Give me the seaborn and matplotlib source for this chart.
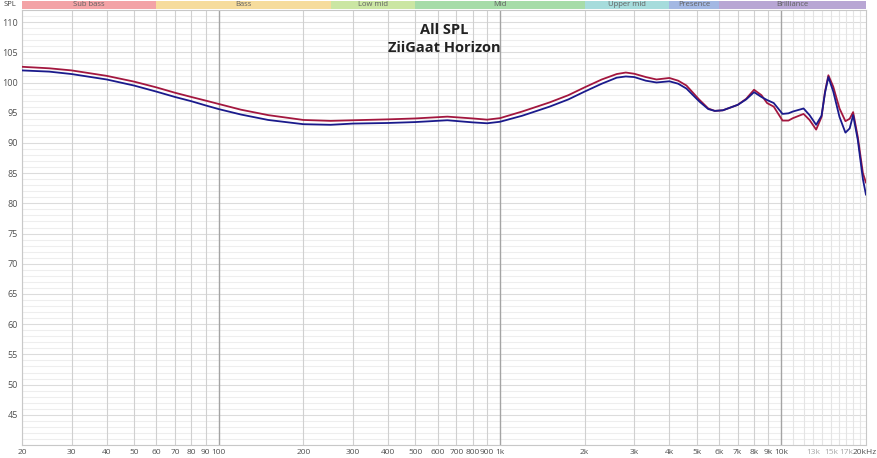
import numpy as np
import pandas as pd
import seaborn as sns
import matplotlib

matplotlib.use('Agg')
import matplotlib.pyplot as plt
import matplotlib.transforms as mtransforms
from matplotlib.ticker import FixedLocator, NullFormatter

# frequency response readings (Hz, dB SPL)
freq = [20, 25, 30, 40, 50, 60, 70, 80, 90, 100, 120, 150, 200, 250, 300, 400, 500, 650,
        800, 900, 1000, 1200, 1500, 1750, 2000, 2300, 2600, 2800, 3000, 3300, 3600, 4000,
        4300, 4600, 5100, 5500, 5800, 6200, 7000, 7500, 8000, 8500, 8900, 9400, 10100,
        10600, 11000, 12000, 12600, 13300, 13900, 14300, 14700, 15300, 16100, 16900,
        17500, 18000, 18700, 19500, 20000]
left_spl = [102.6, 102.35, 102.0, 101.1, 100.15, 99.2, 98.3, 97.6, 97.0, 96.45, 95.5, 94.6,
            93.8, 93.65, 93.75, 93.9, 94.05, 94.35, 94.05, 93.85, 94.1, 95.2, 96.7, 97.9,
            99.2, 100.5, 101.4, 101.65, 101.45, 100.9, 100.5, 100.75, 100.3, 99.5, 97.2,
            95.7, 95.3, 95.4, 96.3, 97.3, 98.8, 97.9, 96.6, 96.0, 93.7, 93.7, 94.1, 94.8,
            93.8, 92.2, 94.3, 98.5, 101.2, 99.3, 95.7, 93.6, 94.0, 95.1, 91.0, 85.0, 83.4]
right_spl = [102.0, 101.8, 101.4, 100.5, 99.5, 98.5, 97.6, 96.9, 96.2, 95.6, 94.7, 93.8,
             93.1, 93.0, 93.2, 93.3, 93.45, 93.75, 93.4, 93.25, 93.5, 94.5, 96.0, 97.2,
             98.5, 99.8, 100.8, 101.0, 100.9, 100.3, 100.0, 100.2, 99.8, 99.0, 96.9,
             95.6, 95.3, 95.4, 96.3, 97.2, 98.4, 97.6, 97.1, 96.6, 94.8, 94.9, 95.2, 95.7,
             94.6, 93.0, 94.5, 98.3, 100.9, 98.5, 94.3, 91.7, 92.4, 94.6, 90.5, 84.0, 81.4]

band_names = ["Sub bass", "Bass", "Low mid", "Mid", "Upper mid", "Presence", "Brilliance"]
band_edges = [20, 60, 250, 500, 2000, 4000, 6000, 20000]
band_colors = ["#f3a3a6", "#f6dc9c", "#cbe6a3", "#a6dca8", "#a6dcdc", "#a3b8e3", "#b8a6d4"]

x_ticks = [20, 30, 40, 50, 60, 70, 80, 90, 100, 200, 300, 400, 500, 600, 700, 800, 900,
           1000, 2000, 3000, 4000, 5000, 6000, 7000, 8000, 9000, 10000, 13000, 15000,
           17000, 20000]
x_labels = ["20", "30", "40", "50", "60", "70", "80", "90", "100", "200", "300", "400",
            "500", "600", "700", "800", "900", "1k", "2k", "3k", "4k", "5k", "6k", "7k",
            "8k", "9k", "10k", "13k", "15k", "17k", "20kHz"]
y_ticks = list(range(45, 111, 5))

df = pd.DataFrame({
    "freq": freq * 2,
    "spl": left_spl + right_spl,
    "side": ["L"] * len(freq) + ["R"] * len(freq),
})

sns.set_style("white")
plt.rcParams['font.family'] = ['Open Sans', 'DejaVu Sans']

fig = plt.figure(figsize=(8.77, 4.58), dpi=100)
W, H = 877, 458
x0, x1 = 22, 866
ax = fig.add_axes([x0 / W, 1 - 445 / H, (x1 - x0) / W, (445 - 10) / H])
band_ax = fig.add_axes([x0 / W, 1 - 9 / H, (x1 - x0) / W, 8 / H])

# grid: horizontal first, vertical on top
for v in range(40, 113):
    ax.axhline(v, color="#dcdcdc" if v % 5 == 0 else "#eeeeee", lw=0.8, zorder=0)
for f in range(11000, 20000, 1000):
    ax.axvline(f, color="#e4e4e4", lw=0.8, zorder=0.5)
for f in [20, 30, 40, 50, 60, 70, 80, 90, 200, 300, 400, 500, 600, 700, 800, 900,
          2000, 3000, 4000, 5000, 6000, 7000, 8000, 9000]:
    ax.axvline(f, color="#d0d0d0", lw=0.8, zorder=0.5)
for f in [100, 1000, 10000]:
    ax.axvline(f, color="#a4a4a4", lw=1.0, zorder=0.6)

sns.lineplot(data=df, x="freq", y="spl", hue="side", palette=["#a3173f", "#1a1a8c"],
             linewidth=1.3, legend=False, ax=ax, zorder=3)

ax.set_xscale("log")
ax.set_xlim(20, 20000)
ax.set_ylim(40, 112)
ax.xaxis.set_major_locator(FixedLocator(x_ticks))
ax.set_xticks(x_ticks)
ax.set_xticklabels(x_labels)
ax.xaxis.set_minor_formatter(NullFormatter())
ax.set_yticks(y_ticks)
ax.tick_params(axis="y", length=0, labelsize=6.5, labelcolor="#505050", pad=3)
ax.tick_params(axis="x", length=0, labelsize=6, labelcolor="#505050", pad=3)
for lbl in ax.get_xticklabels():
    if lbl.get_text() in ("13k", "15k", "17k"):
        lbl.set_color("#a8a8a8")
    if lbl.get_text() == "20kHz":
        lbl.set_transform(lbl.get_transform() +
                          mtransforms.ScaledTranslation(-1.5 / 100, 0, fig.dpi_scale_trans))
ax.set_xlabel("")
ax.set_ylabel("")
for s in ax.spines.values():
    s.set_color("#c8c8c8")
    s.set_linewidth(0.8)

ax.text(0.5, 0.955, "All SPL", transform=ax.transAxes, ha="center", va="center",
        fontsize=10.5, fontweight="bold", color="#222222")
ax.text(0.5, 0.912, "ZiiGaat Horizon", transform=ax.transAxes, ha="center", va="center",
        fontsize=10.5, fontweight="bold", color="#222222")

# frequency bands strip
band_ax.set_xscale("log")
band_ax.set_xlim(20, 20000)
band_ax.set_ylim(0, 1)
for name, lo, hi, c in zip(band_names, band_edges[:-1], band_edges[1:], band_colors):
    band_ax.axvspan(lo, hi, color=c, lw=0)
    band_ax.text(np.sqrt(lo * hi), 0.5, name, ha="center", va="center",
                 fontsize=5.5, color="#606060")
band_ax.set_xticks([])
band_ax.set_yticks([])
band_ax.minorticks_off()
for s in band_ax.spines.values():
    s.set_visible(False)

fig.text(10 / W, 1 - 5 / H, "SPL", ha="center", va="center", fontsize=5.5, color="#404040")

fig.savefig("out.png", dpi=100)
